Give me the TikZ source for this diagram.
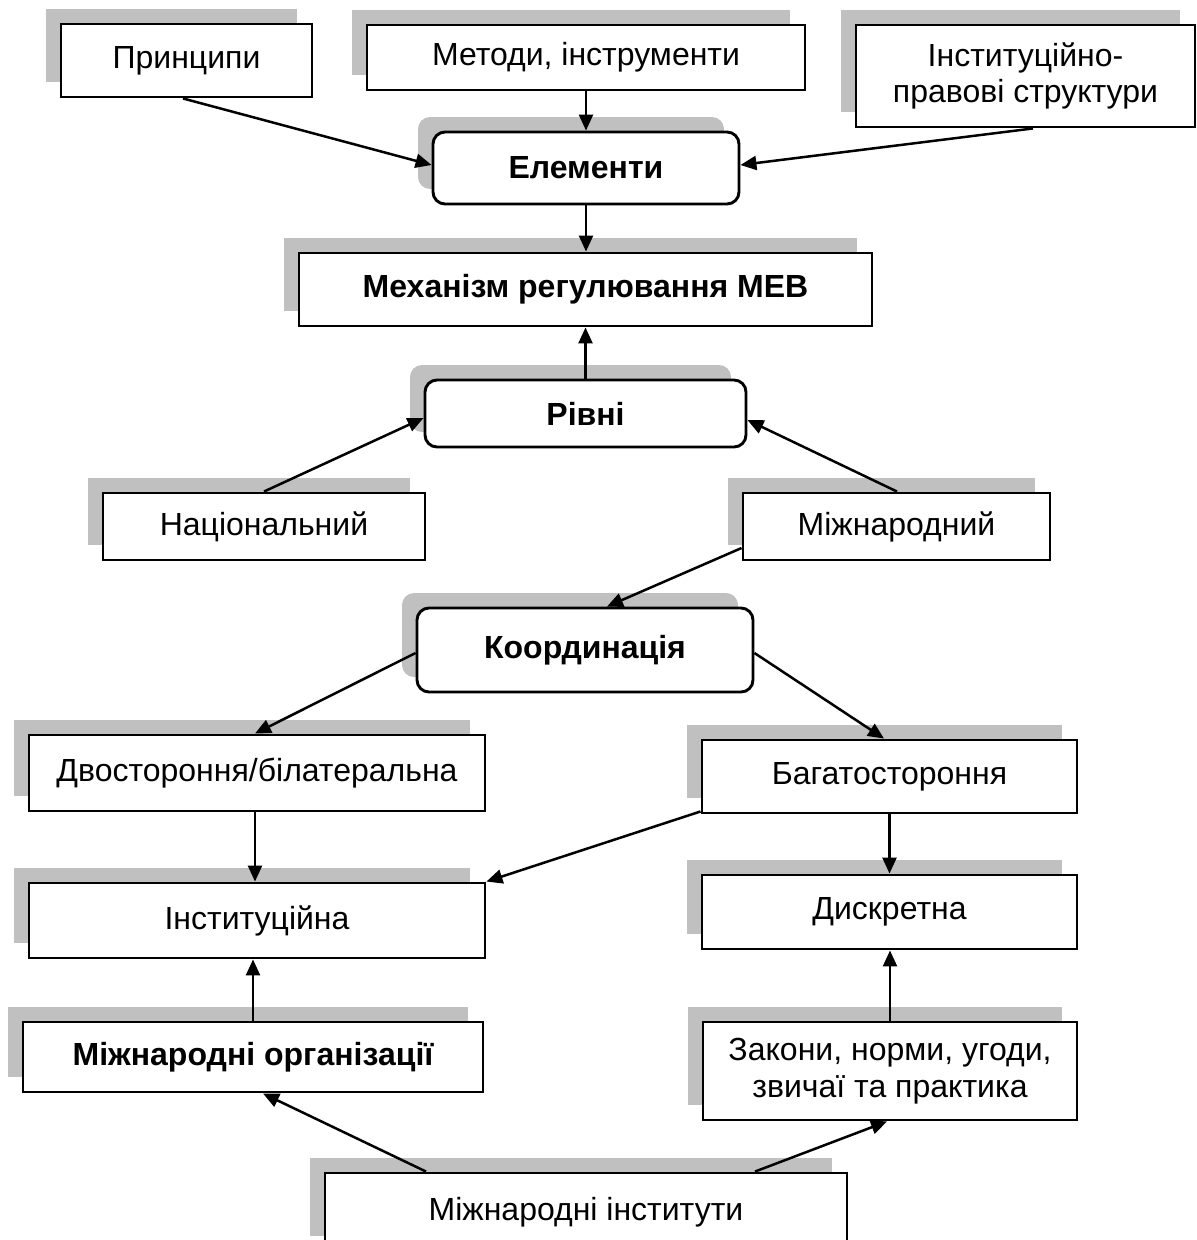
\documentclass[tikz,border=0pt]{standalone}
\usepackage{fontspec}
\setmainfont{Liberation Sans}
\usetikzlibrary{arrows.meta,shadows,calc}
\definecolor{sgray}{HTML}{C0C0C0}
\begin{document}
\begin{tikzpicture}[x=1pt,y=-1pt,
  box/.style={draw=black, line width=2.9pt, fill=white, inner sep=0pt, align=center,
    font=\fontsize{32}{36.5}\selectfont,
    drop shadow={shadow xshift=-15pt,shadow yshift=15pt,fill=sgray,draw=none,opacity=1}},
  rbox/.style={box, rounded corners=12pt},
  bf/.style={font=\fontsize{32}{36.5}\selectfont\bfseries},
  sz/.style 2 args={minimum width=#1pt, minimum height=#2pt},
  arr/.style={line width=2.5pt, -{Triangle[length=16pt,width=14pt]}}
]
\useasboundingbox (0,0) rectangle (1197,1240);
% nodes
\node[box, sz={251}{73}] (pr) at (186.5,60.5) {Принципи};
\node[box, sz={438}{65}] (me) at (586,57.5) {Методи, інструменти};
\node[box, sz={339}{102}] (in) at (1025.5,76) {Інституційно-\\правові структури};
\node[rbox, sz={306}{72}, bf] (el) at (586,168) {Елементи};
\node[box, sz={573}{73}, bf] (mx) at (585.5,289.5) {Механізм регулювання МЕВ};
\node[rbox, sz={321}{67}, bf] (rv) at (585.5,413.5) {Рівні};
\node[box, sz={322}{67}] (na) at (264,526.5) {Національний};
\node[box, sz={307}{67}] (mz) at (896.5,526.5) {Міжнародний};
\node[rbox, sz={336}{84}, bf] (ko) at (585,650) {Координація};
\node[box, sz={456}{76}] (dv) at (257,773) {Двостороння/білатеральна};
\node[box, sz={375}{73}] (ba) at (889.5,776.5) {Багатостороння};
\node[box, sz={456}{75}] (it) at (257,920.5) {Інституційна};
\node[box, sz={375}{74}] (di) at (889.5,912) {Дискретна};
\node[box, sz={460}{70}, bf] (mo) at (253,1057) {Міжнародні організації};
\node[box, sz={374}{98}] (za) at (890,1071) {Закони, норми, угоди,\\звичаї та практика};
\node[box, sz={522}{78}] (mi) at (586,1212) {Міжнародні інститути};
% connectors
\draw[arr] ($(pr.south)+(-3.5,0)$) -- ($(el.west)+(0,-3)$);
\draw[arr] (me.south) -- (me.south |- el.north);
\draw[arr] ($(in.south)+(7.5,0)$) -- ($(el.east)+(0,-3)$);
\draw[arr] (el.south) -- (el.south |- mx.north);
\draw[arr] (rv.north) -- (rv.north |- mx.south);
\draw[arr] (na.north) -- ($(rv.west)+(0,4.5)$);
\draw[arr] ($(mz.north)+(0.5,0)$) -- ($(rv.east)+(0,6.5)$);
\draw[arr] ($(mz.west)+(0,21.5)$) -- ($(ko.north)+(22,0)$);
\draw[arr] ($(ko.west)+(0,3)$) -- ($(dv.north)+(-2,0)$);
\draw[arr] ($(ko.east)+(0,3)$) -- ($(ba.north)+(-5.5,0)$);
\draw[arr] ($(dv.south)+(-2,0)$) -- ($(dv.south |- it.north)+(-2,0)$);
\draw[arr] ($(ba.south west)+(0,-3)$) -- (it.north east);
\draw[arr] (ba.south) -- (ba.south |- di.north);
\draw[arr] (mo.north) -- (mo.north |- it.south);
\draw[arr] (za.north) -- (za.north |- di.south);
\draw[arr] ($(mi.north)+(-160,0)$) -- ($(mo.south)+(10,0)$);
\draw[arr] ($(mi.north)+(169,0)$) -- ($(za.south)+(-3,0)$);
\end{tikzpicture}
\end{document}
